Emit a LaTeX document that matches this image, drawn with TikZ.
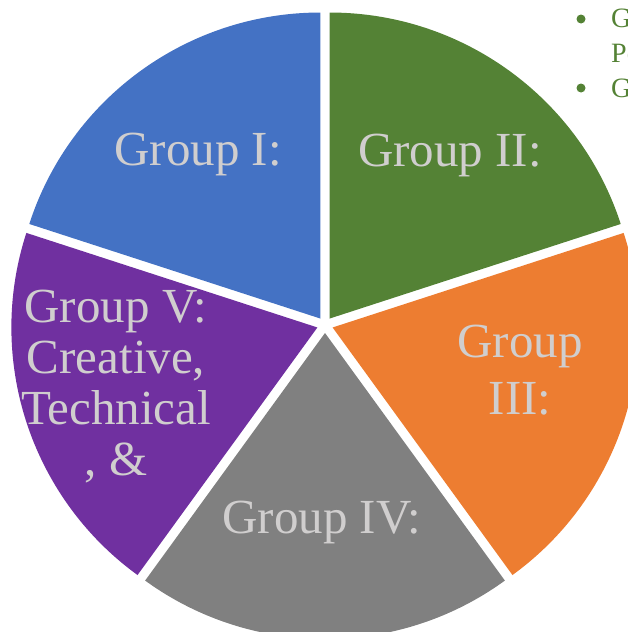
\documentclass[tikz,border=0pt]{standalone}
\usepackage{fontspec}
\setmainfont{Liberation Serif}
\usetikzlibrary{calc}
\definecolor{cblue}{HTML}{4472C4}
\definecolor{cgreen}{HTML}{548235}
\definecolor{corange}{HTML}{ED7D31}
\definecolor{cgray}{HTML}{808080}
\definecolor{cpurple}{HTML}{7030A0}
\definecolor{ctext}{RGB}{208,206,206}
\begin{document}
\begin{tikzpicture}[x=1pt,y=1pt,
  lbl/.style={text=ctext, inner sep=0pt, font=\fontsize{49}{51}\selectfont},
  blt/.style={text=cgreen, inner sep=0pt, anchor=base west, font=\fontsize{28}{32}\selectfont},
  dot/.style={fill=cgreen, circle, inner sep=0pt, minimum size=9pt}]
\useasboundingbox (0,0) rectangle (628,-632);
\clip (0,0) rectangle (628,-632);
\coordinate (C) at (325,-325);
% slices (exploded by 8 along bisector)
\fill[cblue]   ($(C)+(126:8)$) -- ++(90:306)  arc[start angle=90,  end angle=162, radius=306] -- cycle;
\fill[cgreen]  ($(C)+(54:8)$)  -- ++(18:306)  arc[start angle=18,  end angle=90,  radius=306] -- cycle;
\fill[corange] ($(C)+(-18:8)$) -- ++(-54:306) arc[start angle=-54, end angle=18,  radius=306] -- cycle;
\fill[cgray]   ($(C)+(-90:8)$) -- ++(-126:306) arc[start angle=-126, end angle=-54, radius=306] -- cycle;
\fill[cpurple] ($(C)+(198:8)$) -- ++(162:306) arc[start angle=162, end angle=234, radius=306] -- cycle;
% labels
\node[lbl, anchor=base] (g1) at (198,-165) {Group I:};
\node[lbl, anchor=base] (g2) at (450,-166) {Group II:};
\node[lbl, anchor=north, align=center, font=\fontsize{49}{57}\selectfont] (g3) at (520,-325) {Group\\III:};
\node[lbl, anchor=north, inner sep=0pt] (g4) at (322,-501) {Group IV:};
\node[lbl, anchor=north, align=center] (g5) at (116,-290) {Group V:\\Creative,\\Technical\\, \&};
% bullet list (clipped at the right edge)
\node[dot] (d1) at (581,-19) {};
\node[dot] (d2) at (581,-88) {};
\node[blt] (t1) at (611,-27) {G};
\node[blt] (t2) at (611,-62) {Pe};
\node[blt] (t3) at (611,-97) {G};
\end{tikzpicture}
\end{document}
